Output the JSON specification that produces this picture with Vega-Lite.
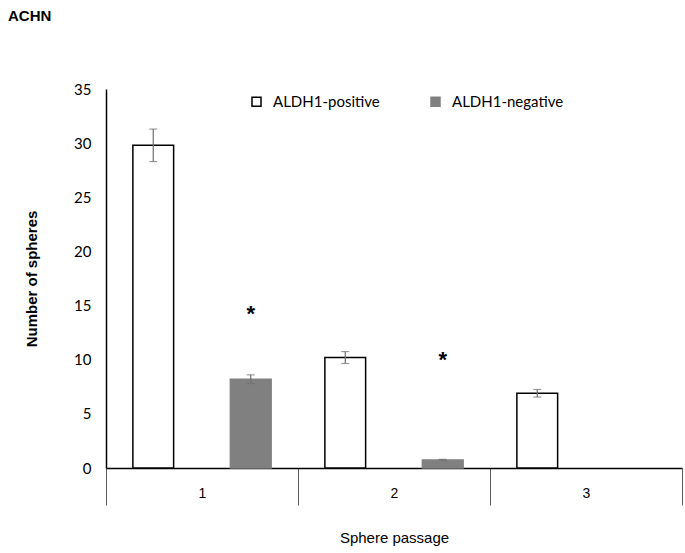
{
  "$schema": "https://vega.github.io/schema/vega-lite/v6.json",
  "autosize": "none",
  "width": 576,
  "height": 379,
  "padding": {"left": 106, "top": 89, "right": 3, "bottom": 85},
  "background": "white",
  "title": {"text": "ACHN", "anchor": "start", "frame": "group", "font": "Liberation Sans", "fontSize": 15, "fontWeight": "bold", "color": "black", "dx": -98, "offset": 58},
  "config": {"view": {"stroke": null}},
  "datasets": {
    "bars": [
      {"passage": "1", "group": "ALDH1-positive", "spheres": 29.8, "lo": 28.3, "hi": 31.3},
      {"passage": "1", "group": "ALDH1-negative", "spheres": 8.2, "lo": 7.8, "hi": 8.6},
      {"passage": "2", "group": "ALDH1-positive", "spheres": 10.2, "lo": 9.65, "hi": 10.75},
      {"passage": "2", "group": "ALDH1-negative", "spheres": 0.75, "lo": 0.7, "hi": 0.8},
      {"passage": "3", "group": "ALDH1-positive", "spheres": 6.9, "lo": 6.55, "hi": 7.25}
    ],
    "stars": [
      {"passage": "1", "group": "ALDH1-negative", "mark": "*", "level": 14.2},
      {"passage": "2", "group": "ALDH1-negative", "mark": "*", "level": 9.95}
    ]
  },
  "encoding": {
    "x": {
      "field": "passage", "type": "nominal",
      "scale": {"domain": ["1", "2", "3"], "paddingInner": 0, "paddingOuter": 0},
      "axis": {
        "title": "Sphere passage", "labelAngle": 0, "tickBand": "extent", "tickSize": 37,
        "tickColor": "#595959", "tickWidth": 1, "domainColor": "black", "domainWidth": 1.5,
        "labelPadding": -19, "labelFont": "Liberation Sans", "labelFontSize": 14, "labelColor": "black",
        "titleFont": "Liberation Sans", "titleFontSize": 15, "titleFontWeight": "normal", "titleColor": "black", "titlePadding": 25
      }
    },
    "xOffset": {
      "field": "group", "type": "nominal",
      "scale": {"domain": ["ALDH1-positive", "ALDH1-negative"], "paddingInner": 0.582, "paddingOuter": 0.2755}
    }
  },
  "layer": [
    {
      "data": {"name": "bars"},
      "mark": {"type": "bar", "strokeWidth": 1.5},
      "encoding": {
        "y": {
          "field": "spheres", "type": "quantitative",
          "scale": {"domain": [0, 35], "nice": false},
          "axis": {
            "title": "Number of spheres", "values": [0, 5, 10, 15, 20, 25, 30, 35], "ticks": false, "grid": false,
            "labelFont": "Lato", "labelFontSize": 15, "labelColor": "black", "labelPadding": 15,
            "domainColor": "black", "domainWidth": 1.5,
            "titleFont": "Liberation Sans", "titleFontSize": 15, "titleFontWeight": "bold", "titleColor": "black", "titlePadding": 34
          }
        },
        "fill": {
          "field": "group", "type": "nominal",
          "scale": {"domain": ["ALDH1-positive", "ALDH1-negative"], "range": ["white", "#808080"]},
          "legend": {"title": null, "orient": "none", "legendX": 143, "legendY": 5, "direction": "horizontal", "symbolType": "square", "symbolSize": 81, "symbolStrokeWidth": 1.5, "labelFont": "Lato", "labelFontSize": 15, "labelColor": "black", "labelOffset": 9, "columnPadding": 48}
        },
        "stroke": {
          "field": "group", "type": "nominal",
          "scale": {"domain": ["ALDH1-positive", "ALDH1-negative"], "range": ["black", "#808080"]},
          "legend": {"title": null, "orient": "none", "legendX": 143, "legendY": 5, "direction": "horizontal", "symbolType": "square", "symbolSize": 81, "symbolStrokeWidth": 1.5, "labelFont": "Lato", "labelFontSize": 15, "labelColor": "black", "labelOffset": 9, "columnPadding": 48}
        }
      }
    },
    {
      "data": {"name": "bars"},
      "mark": {"type": "rule", "color": "#707070", "strokeWidth": 1.2},
      "encoding": {
        "y": {"field": "lo", "type": "quantitative"},
        "y2": {"field": "hi"}
      }
    },
    {
      "data": {"name": "bars"},
      "mark": {"type": "tick", "color": "#707070", "thickness": 1.2, "size": 8},
      "encoding": {"y": {"field": "lo", "type": "quantitative"}}
    },
    {
      "data": {"name": "bars"},
      "mark": {"type": "tick", "color": "#707070", "thickness": 1.2, "size": 8},
      "encoding": {"y": {"field": "hi", "type": "quantitative"}}
    },
    {
      "data": {"name": "stars"},
      "mark": {"type": "text", "font": "Liberation Sans", "fontSize": 22, "fontWeight": "bold", "baseline": "middle", "color": "black"},
      "encoding": {
        "y": {"field": "level", "type": "quantitative"},
        "text": {"field": "mark"}
      }
    }
  ]
}
